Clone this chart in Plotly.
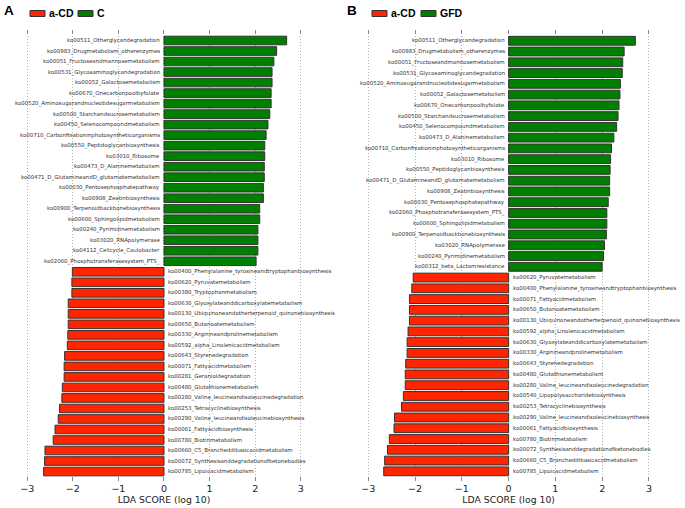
import plotly.graph_objects as go

# ---------------- Panel A data ----------------
a_green_labels = [
    "ko00511_Otherglycandegradation",
    "ko00983_Drugmetabolism_otherenzymes",
    "ko00051_Fructoseandmannosemetabolism",
    "ko00531_Glycosaminoglycandegradation",
    "ko00052_Galactosemetabolism",
    "ko00670_Onecarbonpoolbyfolate",
    "ko00520_Aminosugarandnucleotidesugarmetabolism",
    "ko00500_Starchandsucrosemetabolism",
    "ko00450_Selenocompoundmetabolism",
    "ko00710_Carbonfixationinphotosyntheticorganisms",
    "ko00550_Peptidoglycanbiosynthesis",
    "ko03010_Ribosome",
    "ko00473_D_Alaninemetabolism",
    "ko00471_D_GlutamineandD_glutamatemetabolism",
    "ko00030_Pentosephosphatepathway",
    "ko00908_Zeatinbiosynthesis",
    "ko00900_Terpenoidbackbonebiosynthesis",
    "ko00600_Sphingolipidmetabolism",
    "ko00240_Pyrimidinemetabolism",
    "ko03020_RNApolymerase",
    "ko04112_Cellcycle_Caulobacter",
    "ko02060_Phosphotransferasesystem_PTS_",
]
a_green_values = [2.69, 2.47, 2.41, 2.37, 2.37, 2.35, 2.35, 2.32, 2.28, 2.24, 2.21,
                  2.21, 2.20, 2.20, 2.18, 2.18, 2.10, 2.10, 2.06, 2.06, 2.06, 2.02]
a_red_labels = [
    "ko00400_Phenylalanine_tyrosineandtryptophanbiosynthesis",
    "ko00620_Pyruvatemetabolism",
    "ko00380_Tryptophanmetabolism",
    "ko00630_Glyoxylateanddicarboxylatemetabolism",
    "ko00130_Ubiquinoneandotherterpenoid_quinonebiosynthesis",
    "ko00650_Butanoatemetabolism",
    "ko00330_Arginineandprolinemetabolism",
    "ko00592_alpha_Linolenicacidmetabolism",
    "ko00643_Styrenedegradation",
    "ko00071_Fattyacidmetabolism",
    "ko00281_Geranioldegradation",
    "ko00480_Glutathionemetabolism",
    "ko00280_Valine_leucineandisoleucinedegradation",
    "ko00253_Tetracyclinebiosynthesis",
    "ko00290_Valine_leucineandisoleucinebiosynthesis",
    "ko00061_Fattyacidbiosynthesis",
    "ko00780_Biotinmetabolism",
    "ko00660_C5_Brancheddibasicacidmetabolism",
    "ko00072_Synthesisanddegradationofketonebodies",
    "ko00785_Lipoicacidmetabolism",
]
a_red_values = [-2.01, -2.02, -2.02, -2.10, -2.10, -2.10, -2.11, -2.12, -2.18, -2.19,
                -2.19, -2.23, -2.24, -2.29, -2.32, -2.39, -2.43, -2.61, -2.62, -2.64]

# ---------------- Panel B data ----------------
b_green_labels = [
    "ko00511_Otherglycandegradation",
    "ko00983_Drugmetabolism_otherenzymes",
    "ko00051_Fructoseandmannosemetabolism",
    "ko00531_Glycosaminoglycandegradation",
    "ko00520_Aminosugarandnucleotidesugarmetabolism",
    "ko00052_Galactosemetabolism",
    "ko00670_Onecarbonpoolbyfolate",
    "ko00500_Starchandsucrosemetabolism",
    "ko00450_Selenocompoundmetabolism",
    "ko00473_D_Alaninemetabolism",
    "ko00710_Carbonfixationinphotosyntheticorganisms",
    "ko03010_Ribosome",
    "ko00550_Peptidoglycanbiosynthesis",
    "ko00471_D_GlutamineandD_glutamatemetabolism",
    "ko00908_Zeatinbiosynthesis",
    "ko00030_Pentosephosphatepathway",
    "ko02060_Phosphotransferasesystem_PTS_",
    "ko00600_Sphingolipidmetabolism",
    "ko00900_Terpenoidbackbonebiosynthesis",
    "ko03020_RNApolymerase",
    "ko00240_Pyrimidinemetabolism",
    "ko00312_beta_Lactamresistance",
]
b_green_values = [2.71, 2.47, 2.44, 2.43, 2.39, 2.38, 2.36, 2.34, 2.31, 2.25, 2.20,
                  2.18, 2.17, 2.16, 2.16, 2.13, 2.10, 2.10, 2.09, 2.05, 2.03, 2.00]
b_red_labels = [
    "ko00620_Pyruvatemetabolism",
    "ko00400_Phenylalanine_tyrosineandtryptophanbiosynthesis",
    "ko00071_Fattyacidmetabolism",
    "ko00650_Butanoatemetabolism",
    "ko00130_Ubiquinoneandotherterpenoid_quinonebiosynthesis",
    "ko00592_alpha_Linolenicacidmetabolism",
    "ko00630_Glyoxylateanddicarboxylatemetabolism",
    "ko00330_Arginineandprolinemetabolism",
    "ko00643_Styrenedegradation",
    "ko00480_Glutathionemetabolism",
    "ko00280_Valine_leucineandisoleucinedegradation",
    "ko00540_Lipopolysaccharidebiosynthesis",
    "ko00253_Tetracyclinebiosynthesis",
    "ko00290_Valine_leucineandisoleucinebiosynthesis",
    "ko00061_Fattyacidbiosynthesis",
    "ko00780_Biotinmetabolism",
    "ko00072_Synthesisanddegradationofketonebodies",
    "ko00660_C5_Brancheddibasicacidmetabolism",
    "ko00785_Lipoicacidmetabolism",
]
b_red_values = [-2.04, -2.07, -2.12, -2.12, -2.12, -2.15, -2.17, -2.17, -2.20, -2.21,
                -2.21, -2.25, -2.29, -2.44, -2.45, -2.55, -2.59, -2.65, -2.67]

x_ticks = [-3, -2, -1, 0, 1, 2, 3]
panel_titles = ["A", "B"]
legend_names = [["a-CD", "C"], ["a-CD", "GFD"]]

RED = "#FF2500"
GREEN = "#007F00"
EDGE = "#333333"
TXT = "#222222"
LABEL_FONT = dict(family="DejaVu Sans", size=5.45, color="#333333")

fig = go.Figure()

panels = [
    (a_green_labels, a_green_values, a_red_labels, a_red_values, "x", "y", [0.0264, 0.4524]),
    (b_green_labels, b_green_values, b_red_labels, b_red_values, "x2", "y2", [0.524, 0.961]),
]
ydom = [1 - 481 / 508, 1 - 30 / 508]

annotations = []
shapes = []
for pi, (gl, gv, rl, rv, xr, yr, xdom) in enumerate(panels):
    cats = [f"{pi}:{l}" for l in gl + rl]
    gc = cats[:len(gl)]
    rc = cats[len(gl):]
    n = len(cats)
    fig.add_trace(go.Bar(x=gv, y=gc, orientation="h", xaxis=xr, yaxis=yr, width=0.82,
                         marker=dict(color=GREEN, line=dict(color=EDGE, width=1)),
                         showlegend=False, hoverinfo="x+y"))
    fig.add_trace(go.Bar(x=rv, y=rc, orientation="h", xaxis=xr, yaxis=yr, width=0.82,
                         marker=dict(color=RED, line=dict(color=EDGE, width=1)),
                         showlegend=False, hoverinfo="x+y"))
    for c, l in zip(gc, gl):
        annotations.append(dict(x=0, y=c, xref=xr, yref=yr, text=l, showarrow=False,
                                xanchor="right", xshift=-2, font=LABEL_FONT))
    for c, l in zip(rc, rl):
        annotations.append(dict(x=0, y=c, xref=xr, yref=yr, text=l, showarrow=False,
                                xanchor="left", xshift=2, font=LABEL_FONT))
    axname = "xaxis" if xr == "x" else "xaxis2"
    yname = "yaxis" if yr == "y" else "yaxis2"
    fig.update_layout(**{
        axname: dict(domain=xdom, anchor=yr, range=[-3.2, 3.2], tickvals=x_ticks,
                     ticktext=[str(t).replace("-", "\u2212") for t in x_ticks],
                     showgrid=True, gridcolor="#B0B0B0", griddash="1px,2px", gridwidth=1,
                     zeroline=False, showline=False, ticks="inside", ticklen=4,
                     tickcolor="#888888", mirror="ticks",
                     tickfont=dict(family="DejaVu Sans", size=9.5, color=TXT),
                     title=dict(text="LDA SCORE (log 10)", standoff=3,
                                font=dict(family="DejaVu Sans", size=9.3, color=TXT))),
        yname: dict(domain=ydom, anchor=xr, type="category", categoryorder="array",
                    categoryarray=cats, range=[n - 0.1, -1.0], showticklabels=False,
                    showgrid=False, zeroline=False, showline=False, ticks=""),
    })
    # panel letter
    x0 = [0.003, 0.504][pi]
    annotations.append(dict(x=x0, y=1 - 1 / 508, xref="paper", yref="paper",
                            text=f"<b>{panel_titles[pi]}</b>", showarrow=False,
                            xanchor="left", yanchor="top",
                            font=dict(family="Liberation Sans", size=13.5, color="black")))
    # legend patches + text
    lx = [[30, 78], [372, 421]][pi]
    for li, (name, col) in enumerate(zip(legend_names[pi], [RED, GREEN])):
        px = lx[li]
        shapes.append(dict(type="rect", xref="paper", yref="paper",
                           x0=px / 685, x1=(px + 15) / 685,
                           y0=1 - 16.5 / 508, y1=1 - 10.5 / 508,
                           fillcolor=col, line=dict(color=EDGE, width=1)))
        annotations.append(dict(x=(px + 17) / 685, y=1 - 13.5 / 508, xref="paper", yref="paper",
                                text=f"<b>{name}</b>", showarrow=False, xanchor="left",
                                yanchor="middle",
                                font=dict(family="Liberation Sans", size=10.5, color="black")))

fig.update_layout(
    width=685, height=508, margin=dict(l=0, r=0, t=0, b=0),
    plot_bgcolor="white", paper_bgcolor="white", bargap=0.18,
    annotations=annotations, shapes=shapes,
)
fig.write_html("out.html", config={"displayModeBar": False},
               post_script="document.body.style.margin='0';document.body.style.padding='0';")
